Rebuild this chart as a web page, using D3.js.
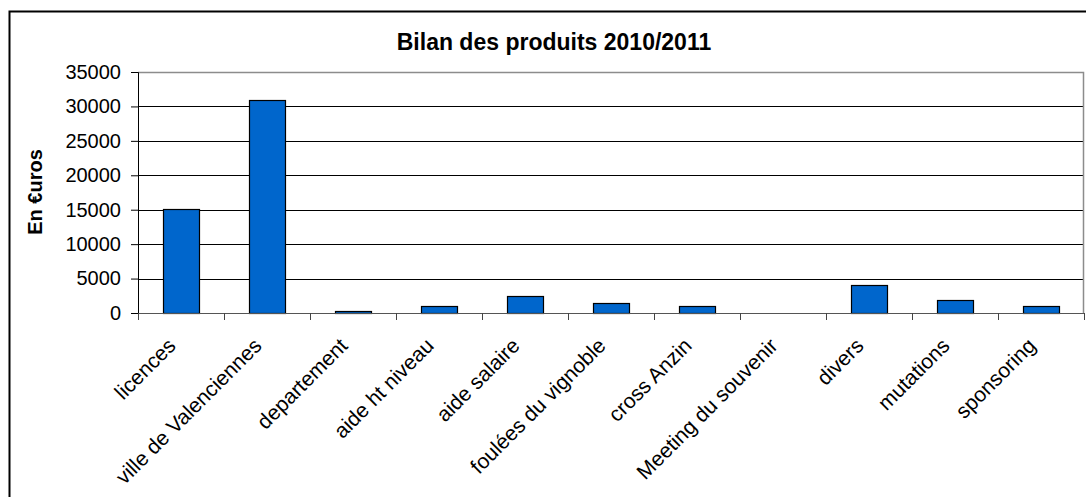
<!DOCTYPE html>
<html>
<head>
<meta charset="utf-8">
<script src="https://cdn.jsdelivr.net/npm/d3@7"></script>
<style>
  body { margin: 0; background: #fff; }
  svg { display: block; font-family: Arial, "Liberation Sans", sans-serif; }
</style>
</head>
<body>
<svg width="1086" height="497"></svg>
<script>
var categories = ["licences", "ville de Valenciennes", "departement", "aide ht niveau",
  "aide salaire", "foulées du vignoble", "cross Anzin", "Meeting du souvenir",
  "divers", "mutations", "sponsoring"];
var produits = [15100, 30900, 250, 1000, 2500, 1450, 1000, 0, 4100, 1850, 1000];
var yTicks = [0, 5000, 10000, 15000, 20000, 25000, 30000, 35000];

var svg = d3.select("svg"),
    margin = {top: 72, right: 2, bottom: 184, left: 138},
    width = +svg.attr("width") - margin.left - margin.right,
    height = +svg.attr("height") - margin.top - margin.bottom;

// outer chart frame
svg.append("rect")
    .attr("x", 9.5).attr("y", 11.5)
    .attr("width", 1100).attr("height", 500)
    .attr("fill", "none").attr("stroke", "#000").attr("stroke-width", 2);

svg.append("text")
    .attr("x", 554).attr("y", 50)
    .attr("text-anchor", "middle")
    .style("font-size", "23px").style("font-weight", "bold")
    .text("Bilan des produits 2010/2011");

var x = d3.scaleBand().domain(categories).range([0, width]).paddingInner(0.58).paddingOuter(0.29),
    xb = d3.scaleBand().domain(categories).range([0, width]),
    y = d3.scaleLinear().domain([0, 35000]).range([height, 0]);

var g = svg.append("g")
    .attr("transform", "translate(" + margin.left + "," + margin.top + ")");

// grid lines
g.selectAll(".grid")
  .data(yTicks.slice(1, -1))
  .enter().append("line")
    .attr("x1", 0).attr("x2", width)
    .attr("y1", function(d) { return Math.round(y(d)) + 0.5; })
    .attr("y2", function(d) { return Math.round(y(d)) + 0.5; })
    .attr("stroke", "#000");

// plot area border (top, right)
g.append("path")
    .attr("d", "M0,0.5H" + (width - 0.5) + "V" + height)
    .attr("fill", "none").attr("stroke", "#8c8c8c").attr("stroke-width", 1.5);

g.selectAll(".bar")
  .data(produits)
  .enter().append("rect")
    .attr("class", "bar")
    .attr("x", function(d, i) { return Math.round(x(categories[i])) + 0.5; })
    .attr("y", function(d) { return Math.round(y(d)) + 0.5; })
    .attr("width", Math.round(x.bandwidth()))
    .attr("height", function(d) { return Math.round(height - y(d)); })
    .attr("fill", "#0066cc")
    .attr("stroke", "#000")
    .attr("stroke-width", 1.2);

// y axis
var yAxis = g.append("g")
    .call(d3.axisLeft(y).tickValues(yTicks).tickSize(7).tickPadding(10).tickFormat(d3.format("d")));
yAxis.select(".domain").attr("stroke", "#000");
yAxis.selectAll("text").style("font-size", "20px").attr("fill", "#000")
    .attr("font-family", null);

// x axis
var xAxis = g.append("g")
    .attr("transform", "translate(0," + height + ")");
xAxis.append("line")
    .attr("x1", 0).attr("x2", width).attr("y1", 0.5).attr("y2", 0.5)
    .attr("stroke", "#555");
xAxis.selectAll(".tk")
  .data(categories.concat([null]))
  .enter().append("line")
    .attr("x1", function(d, i) { return Math.round(i * xb.step()) + 0.5; })
    .attr("x2", function(d, i) { return Math.round(i * xb.step()) + 0.5; })
    .attr("y1", 0).attr("y2", 7)
    .attr("stroke", "#444");
xAxis.selectAll(".lbl")
  .data(categories)
  .enter().append("text")
    .attr("transform", function(d) {
      return "translate(" + (xb(d) + xb.bandwidth() / 2 - 4) + ",34) rotate(-45)";
    })
    .attr("text-anchor", "end")
    .style("font-size", "21px")
    .text(function(d) { return d; });

// y label
svg.append("text")
    .attr("transform", "translate(42,192) rotate(-90)")
    .attr("text-anchor", "middle")
    .style("font-size", "20px").style("font-weight", "bold")
    .text("En €uros");
</script>
</body>
</html>
